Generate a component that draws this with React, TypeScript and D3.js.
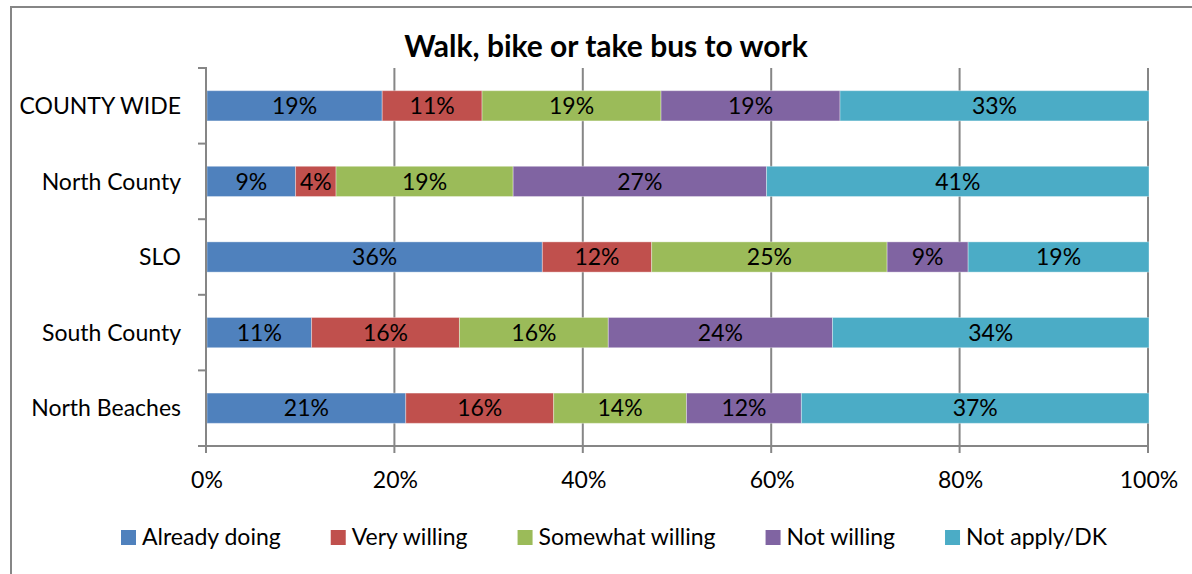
import React, { useRef, useEffect } from 'react'
import * as d3 from 'd3'

const categories = ['COUNTY WIDE', 'North County', 'SLO', 'South County', 'North Beaches']
const seriesNames = ['Already doing', 'Very willing', 'Somewhat willing', 'Not willing', 'Not apply/DK']
const alreadyDoing = [18.6, 9.4, 35.6, 11.1, 21.1]
const veryWilling = [10.6, 4.3, 11.6, 15.7, 15.7]
const somewhatWilling = [19.0, 18.8, 25.0, 15.8, 14.1]
const notWilling = [19.0, 26.9, 8.6, 23.8, 12.2]
const notApply = [32.8, 40.6, 19.2, 33.6, 36.9]
const xTicks = [0, 20, 40, 60, 80, 100]
const colors = ['#4F81BD', '#C0504D', '#9BBB59', '#8064A2', '#4BACC6']

const FONT = 'Lato, "Open Sans", sans-serif'
const FS = '23px'

const App = () => {
  const svgRef = useRef<SVGSVGElement>(null)

  useEffect(() => {
    const w = 1192
    const h = 574
    const svg = d3.select(svgRef.current)
    svg.selectAll('*').remove()

    const series = [alreadyDoing, veryWilling, somewhatWilling, notWilling, notApply]
    const rows = categories.map((c, i) => {
      const r: any = { cat: c }
      seriesNames.forEach((s, j) => { r[s] = series[j][i] })
      return r
    })
    const stacked = d3.stack().keys(seriesNames)(rows)

    const x = d3.scaleLinear().domain([0, 100]).range([206, 1148])
    const y = d3.scaleBand().domain(categories).range([68, 446]).paddingInner(0.6).paddingOuter(0.3)
    const band = d3.scaleBand().domain(categories).range([68, 446])
    const grey = '#868686'

    // chart frame
    svg.append('rect')
      .attr('x', 11).attr('y', 7)
      .attr('width', w).attr('height', h)
      .attr('fill', '#fff').attr('stroke', grey).attr('stroke-width', 2)

    // title
    svg.append('text')
      .attr('x', 606).attr('y', 57)
      .attr('text-anchor', 'middle')
      .style('font-family', FONT).style('font-weight', 'bold').style('font-size', '30px')
      .text('Walk, bike or take bus to work')

    // grid lines
    svg.append('g').selectAll('line')
      .data(xTicks.slice(1))
      .join('line')
      .attr('x1', d => x(d)).attr('x2', d => x(d))
      .attr('y1', 68).attr('y2', 446)
      .attr('stroke', grey).attr('stroke-width', 2)

    // bars
    const g = svg.append('g')
    stacked.forEach((s, j) => {
      g.append('g').selectAll('rect')
        .data(s)
        .join('rect')
        .attr('x', d => x(d[0]) + 1)
        .attr('y', d => y(d.data.cat as any)!)
        .attr('width', d => x(d[1]) - x(d[0]))
        .attr('height', y.bandwidth())
        .attr('fill', colors[j])
        .attr('stroke', '#fff').attr('stroke-opacity', 0.35).attr('stroke-width', 1)
      g.append('g').selectAll('text')
        .data(s)
        .join('text')
        .attr('x', d => (x(d[0]) + x(d[1])) / 2 + 1)
        .attr('y', d => y(d.data.cat as any)! + y.bandwidth() / 2)
        .attr('dy', '0.36em')
        .attr('text-anchor', 'middle')
        .style('font-family', FONT).style('font-size', FS)
        .text(d => Math.round(d[1] - d[0]) + '%')
    })

    // y axis
    const yAxis = svg.append('g')
    yAxis.append('line')
      .attr('x1', 206).attr('x2', 206).attr('y1', 67).attr('y2', 453)
      .attr('stroke', grey).attr('stroke-width', 2)
    yAxis.selectAll('.ytick')
      .data(d3.range(categories.length + 1))
      .join('line')
      .attr('x1', 198).attr('x2', 206)
      .attr('y1', i => 68 + i * band.bandwidth()).attr('y2', i => 68 + i * band.bandwidth())
      .attr('stroke', grey).attr('stroke-width', 2)
    yAxis.selectAll('text')
      .data(categories)
      .join('text')
      .attr('x', 181)
      .attr('y', d => band(d)! + band.bandwidth() / 2)
      .attr('dy', '0.36em')
      .attr('text-anchor', 'end')
      .style('font-family', FONT).style('font-size', FS)
      .text(d => d)

    // x axis
    const xAxis = svg.append('g')
    xAxis.append('line')
      .attr('x1', 198).attr('x2', 1148).attr('y1', 446).attr('y2', 446)
      .attr('stroke', grey).attr('stroke-width', 2)
    xAxis.selectAll('.xtick')
      .data(xTicks)
      .join('line')
      .attr('x1', d => x(d)).attr('x2', d => x(d))
      .attr('y1', 446).attr('y2', 453)
      .attr('stroke', grey).attr('stroke-width', 2)
    xAxis.selectAll('text')
      .data(xTicks)
      .join('text')
      .attr('x', d => x(d) + 1)
      .attr('y', 488)
      .attr('text-anchor', 'middle')
      .style('font-family', FONT).style('font-size', FS)
      .text(d => d + '%')

    // legend
    const legend = svg.append('g')
    let lx = 121
    seriesNames.forEach((s, j) => {
      legend.append('rect')
        .attr('x', lx).attr('y', 530)
        .attr('width', 15).attr('height', 15)
        .attr('fill', colors[j])
      const t = legend.append('text')
        .attr('x', lx + 21).attr('y', 545)
        .style('font-family', FONT).style('font-size', FS)
        .text(s)
      const tw = (t.node() as SVGTextElement).getComputedTextLength()
      lx += 21 + tw + 50
    })
  }, [])

  return (
    <svg ref={svgRef} width={1192} height={574}
      style={{ position: 'absolute', left: 0, top: 0, display: 'block', background: '#fff' }} />
  )
}

export default App
